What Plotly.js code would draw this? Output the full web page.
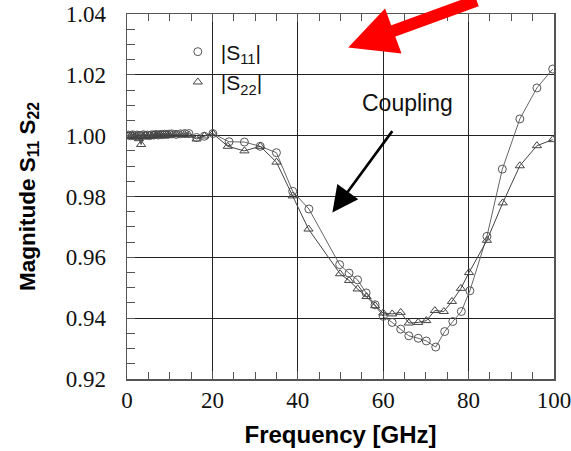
<!DOCTYPE html>
<html>
<head>
<meta charset="utf-8">
<script src="https://cdn.plot.ly/plotly-3.0.1.min.js"></script>
<style>html,body{margin:0;padding:0;background:#fff;}#chart{width:571px;height:451px;}</style>
</head>
<body>
<div id="chart"></div>
<script>
const freqS11 = [0.3,0.8,1.3,1.8,2.3,2.8,3.3,3.8,4.3,4.8,5.3,5.8,6.3,6.8,7.3,7.8,8.3,8.8,9.3,9.8,10.5,11.5,12.5,13.5,14.5,16.3,18.1,20.1,
  23.9,27.5,31.2,35.0,38.8,42.6,49.8,52.0,54.0,56.0,58.1,60.0,62.1,64.1,66.0,68.2,70.1,72.3,74.4,76.3,78.3,80.3,84.3,87.9,92.0,96.0,99.7];
const magS11 = [1.0002,1.0000,1.0003,0.9999,1.0002,1.0001,1.0000,1.0003,1.0001,1.0002,1.0000,1.0003,1.0002,1.0004,1.0002,1.0004,1.0003,1.0005,1.0004,1.0005,1.0006,1.0004,1.0006,1.0007,1.0007,0.9994,0.9998,1.0007,
  0.9980,0.9979,0.9965,0.9944,0.9817,0.9759,0.9576,0.9548,0.9526,0.9483,0.9444,0.9406,0.9386,0.9364,0.9342,0.9334,0.9325,0.9305,0.9356,0.9389,0.9422,0.9490,0.9669,0.9890,1.0055,1.0157,1.0219];
const freqS22 = [0.3,0.8,1.3,1.8,2.3,2.8,3.3,3.8,4.3,4.8,5.3,5.8,6.3,6.8,7.3,7.8,8.3,8.8,9.3,9.8,10.5,11.5,12.5,13.5,14.5,16.3,18.1,20.1,
  23.6,27.5,31.2,35.0,38.8,42.5,49.9,52.0,54.0,56.1,58.1,60.0,62.1,64.1,66.0,68.2,70.1,72.1,74.2,76.1,78.2,80.1,84.3,88.0,92.0,96.0,99.7];
const magS22 = [1.0000,0.9998,1.0001,0.9996,0.9999,0.9990,0.9971,0.9997,1.0000,0.9998,1.0001,0.9999,1.0002,1.0000,1.0001,1.0003,1.0002,1.0002,1.0003,1.0002,1.0003,1.0004,1.0003,1.0004,1.0002,0.9989,0.9999,1.0007,
  0.9965,0.9950,0.9965,0.9913,0.9802,0.9693,0.9546,0.9524,0.9496,0.9471,0.9441,0.9417,0.9414,0.9419,0.9384,0.9386,0.9392,0.9425,0.9422,0.9455,0.9498,0.9550,0.9656,0.9779,0.9901,0.9967,0.9987];
const seriesNames = ['|S<sub>11</sub>|','|S<sub>22</sub>|'];
const yTickVals = [0.92,0.94,0.96,0.98,1.00,1.02,1.04];
const yTickText = ['0.92','0.94','0.96','0.98','1.00','1.02','1.04'];
const xTickVals = [0,20,40,60,80,100];

const traces = [
  {x:freqS11, y:magS11, mode:'lines+markers', showlegend:false,
   line:{color:'#666', width:1},
   marker:{symbol:'circle-open', size:8, color:'#555', line:{width:1}}},
  {x:freqS22, y:magS22, mode:'lines+markers', showlegend:false,
   line:{color:'#444', width:1},
   marker:{symbol:'triangle-up-open', size:8, color:'#444', line:{width:1}}},
  {x:[null], y:[null], mode:'markers', name:seriesNames[0],
   marker:{symbol:'circle-open', size:8, color:'#555'}},
  {x:[null], y:[null], mode:'markers', name:seriesNames[1],
   marker:{symbol:'triangle-up-open', size:8, color:'#444'}}
];

const serif = '"Liberation Serif", "DejaVu Serif", serif';
const sans = '"Liberation Sans", Arial, sans-serif';

const layout = {
  width:571, height:451,
  margin:{l:127, r:17, t:14, b:72},
  paper_bgcolor:'#fff', plot_bgcolor:'#fff',
  xaxis:{
    range:[0,100], tickvals:xTickVals, ticktext:xTickVals.map(String),
    showgrid:true, gridcolor:'#222', gridwidth:1,
    zeroline:false, showline:true, linecolor:'#555', linewidth:1.5, mirror:'ticks',
    ticks:'inside', ticklen:8, tickcolor:'#555',
    minor:{dtick:5, ticks:'inside', ticklen:7, tickcolor:'#555', showgrid:false},
    tickfont:{family:serif, size:23, color:'#111'},
    ticklabeloverflow:'allow',
    title:{text:'<b>Frequency [GHz]</b>', font:{family:sans, size:24, color:'#000'}, standoff:14}
  },
  yaxis:{
    range:[0.92,1.04], tickvals:yTickVals, ticktext:yTickText,
    showgrid:true, gridcolor:'#222', gridwidth:1,
    zeroline:false, showline:true, linecolor:'#555', linewidth:1.5, mirror:true,
    ticks:'inside', ticklen:8, tickcolor:'#555',
    minor:{dtick:0.005, ticks:'inside', ticklen:8, tickcolor:'#555', showgrid:false},
    tickfont:{family:serif, size:23, color:'#111'},
    ticklabeloverflow:'allow',
    ticklabelstandoff:15,
    title:{text:'<b>Magnitude S<sub>11</sub> S<sub>22</sub></b>', font:{family:sans, size:22.5, color:'#000'}, standoff:24}
  },
  legend:{x:0.112, y:0.952, xanchor:'left', yanchor:'top', bgcolor:'rgba(0,0,0,0)',
    font:{family:sans, size:21, color:'#111'}, traceorder:'normal', itemwidth:36},
  annotations:[
    {x:65.8, y:1.0109, xref:'x', yref:'y', text:'Coupling', showarrow:false,
     font:{family:sans, size:23, color:'#111'}},
    {x:48.1, y:0.9747, xref:'x', yref:'y', ax:61, ay:-83, text:'', showarrow:true,
     arrowhead:2, arrowsize:2, arrowwidth:2.6, arrowcolor:'#000'},
    {x:51.8, y:1.0290, xref:'x', yref:'y', ax:130, ay:-58, text:'', showarrow:true,
     arrowhead:2, arrowsize:0.8, arrowwidth:12, arrowcolor:'#f00'}
  ]
};

Plotly.newPlot('chart', traces, layout, {displayModeBar:false, staticPlot:true});
</script>
</body>
</html>
